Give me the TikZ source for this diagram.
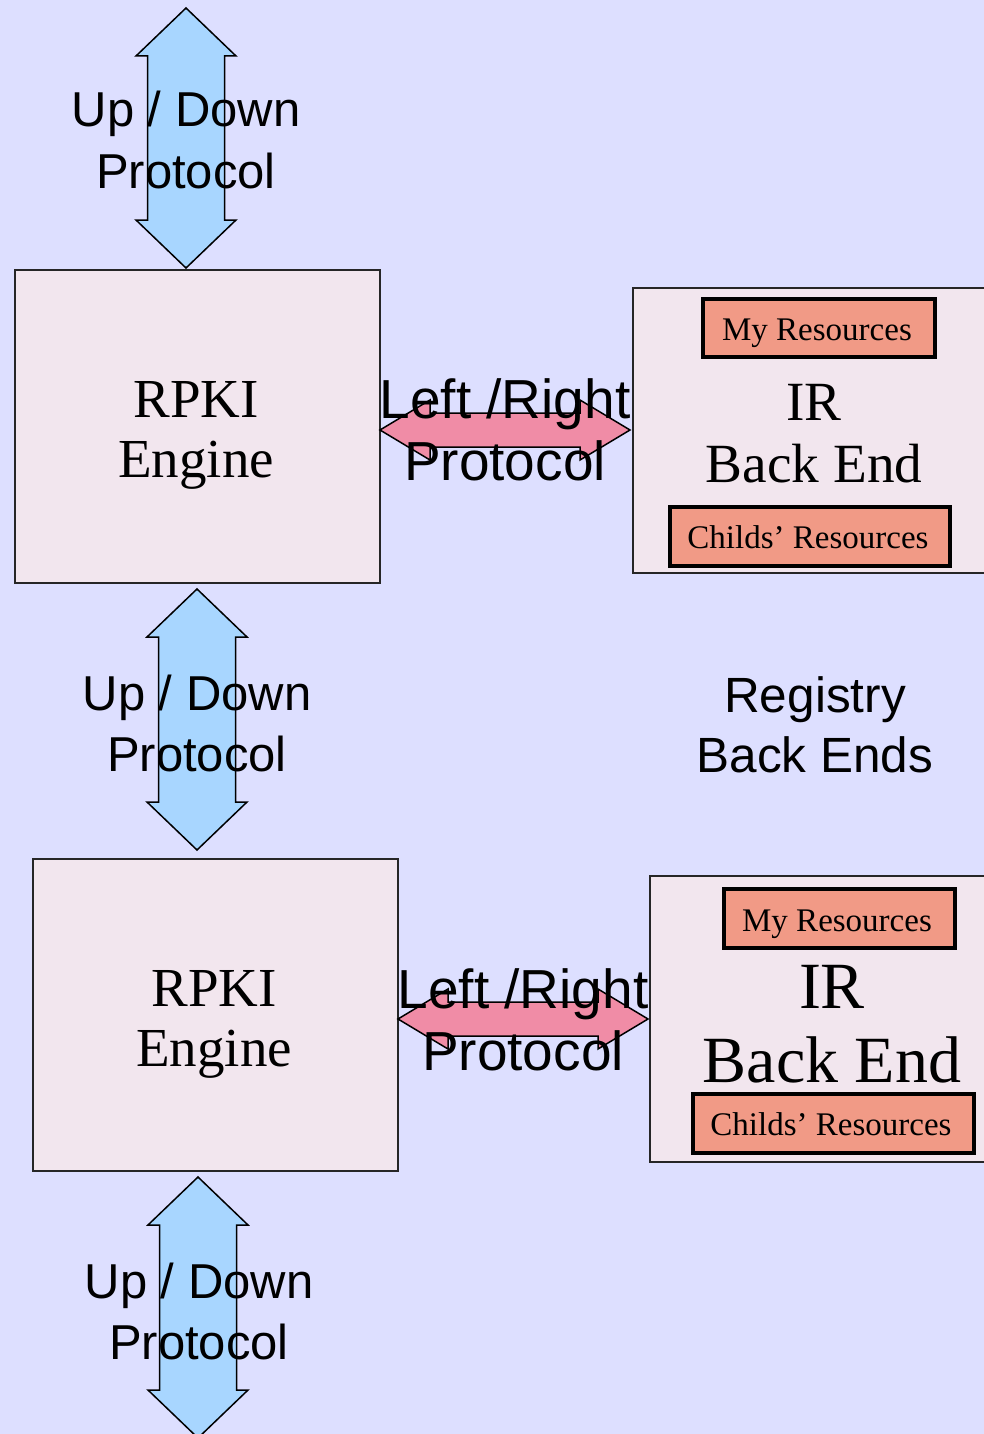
\documentclass[tikz,border=0pt]{standalone}
\usepackage{fontspec}
\setmainfont{Liberation Serif}
\setsansfont{Liberation Sans}
\definecolor{bg}{RGB}{221,223,255}
\definecolor{boxfill}{RGB}{242,230,238}
\definecolor{udblue}{RGB}{168,214,255}
\definecolor{lrpink}{RGB}{240,140,166}
\definecolor{resfill}{RGB}{241,154,134}
\newcommand\vdblarrow[3]{% cx, top, bottom
  \draw[udarrow] (#1,#2) -- ++(50,48) -- ++(-11.5,0) -- (#1+38.5,#3-48) -- ++(11.5,0) -- (#1,#3)
    -- (#1-50,#3-48) -- ++(11.5,0) -- (#1-38.5,#2+48) -- ++(-11.5,0) -- cycle;}
\newcommand\hdblarrow[3]{% left, right, cy
  \draw[lrarrow] (#1,#3) -- ++(50,-30) -- ++(0,13) -- (#2-50,#3-17) -- ++(0,-13) -- (#2,#3)
    -- (#2-50,#3+30) -- ++(0,-13) -- (#1+50,#3+17) -- ++(0,13) -- cycle;}
\tikzset{
  proto/.style={font=\sffamily\fontsize{49}{58}\selectfont, anchor=base, inner sep=0pt},
  regtext/.style={font=\sffamily\fontsize{49.5}{58}\selectfont, anchor=base, inner sep=0pt},
  lrtext/.style={font=\sffamily\fontsize{55}{62}\selectfont, anchor=base, inner sep=0pt},
  engtext/.style={font=\fontsize{55}{60}\selectfont, anchor=base, inner sep=0pt},
  irtext/.style={font=\fontsize{55.3}{60}\selectfont, anchor=base, inner sep=0pt},
  irbig/.style={font=\fontsize{66}{74}\selectfont, anchor=base, inner sep=0pt},
  restext/.style={font=\fontsize{33}{36}\selectfont, anchor=base, inner sep=0pt},
  outerbox/.style={draw=black!85, line width=1.5pt, fill=boxfill, anchor=north west, inner sep=0pt},
  resbox/.style={draw=black, line width=4pt, fill=resfill, anchor=north west, inner sep=0pt},
  udarrow/.style={draw=black, line width=1.5pt, fill=udblue, line join=miter},
  lrarrow/.style={draw=black, line width=1.5pt, fill=lrpink, line join=miter},
}
\begin{document}
\begin{tikzpicture}[x=1pt,y=-1pt]
\clip (0,0) rectangle (984,1434);
\fill[bg] (0,0) rectangle (984,1434);
% boxes
\node[outerbox, minimum width=365, minimum height=313] (eng1) at (14,269) {};
\node[outerbox, minimum width=365, minimum height=312] (eng2) at (32,858) {};
\node[outerbox, minimum width=370, minimum height=285] (ir1) at (632,287) {};
\node[outerbox, minimum width=370, minimum height=286] (ir2) at (649,875) {};
\node[resbox, minimum width=232, minimum height=58] (my1) at (701,297) {};
\node[resbox, minimum width=280, minimum height=59] (ch1) at (668,505) {};
\node[resbox, minimum width=231, minimum height=59] (my2) at (722,887) {};
\node[resbox, minimum width=281, minimum height=59] (ch2) at (691,1092) {};
% arrows
\vdblarrow{186}{8}{268}
\vdblarrow{197}{589}{850}
\vdblarrow{198}{1177}{1438}
\hdblarrow{380}{630}{430}
\hdblarrow{398}{648}{1019}
% texts
\node[proto] (ud1a) at (186,127) {Up / Down};
\node[proto] (ud1b) at (186,189) {Protocol};
\node[proto] (ud2a) at (197,710) {Up / Down};
\node[proto] (ud2b) at (197,771) {Protocol};
\node[proto] (ud3a) at (199,1298) {Up / Down};
\node[proto] (ud3b) at (199,1359) {Protocol};
\node[lrtext] (lr1a) at (505,418) {Left /Right};
\node[lrtext] (lr1b) at (505,480) {Protocol};
\node[lrtext] (lr2a) at (523,1008) {Left /Right};
\node[lrtext] (lr2b) at (523,1070) {Protocol};
\node[engtext] (e1a) at (196,417) {RPKI};
\node[engtext] (e1b) at (196,477) {Engine};
\node[engtext] (e2a) at (214,1006) {RPKI};
\node[engtext] (e2b) at (214,1066) {Engine};
\node[irtext] (i1a) at (814,420) {IR};
\node[irtext] (i1b) at (814,482) {Back End};
\node[irbig] (i2a) at (832,1008) {IR};
\node[irbig] (i2b) at (832,1082) {Back End};
\node[restext] (m1t) at (817,340) {My Resources};
\node[restext] (c1t) at (808,548) {Childs’ Resources};
\node[restext] (m2t) at (837,931) {My Resources};
\node[restext] (c2t) at (831,1135) {Childs’ Resources};
\node[regtext] (reg1) at (815,712) {Registry};
\node[regtext] (reg2) at (815,772) {Back Ends};
\end{tikzpicture}
\end{document}
